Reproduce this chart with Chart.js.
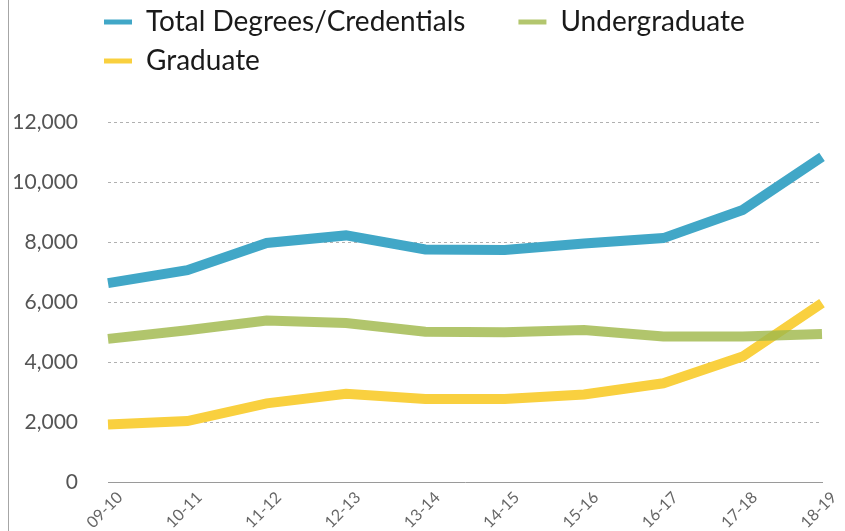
<!DOCTYPE html>
<html>
<head>
<meta charset="utf-8">
<script src="https://cdn.jsdelivr.net/npm/chart.js@4/dist/chart.umd.min.js"></script>
<style>
  html, body { margin: 0; padding: 0; background: #fff; }
  #wrap { position: relative; width: 845px; height: 531px; }
  #edge { position: absolute; left: 8px; top: 0; width: 1px; height: 531px; background: #a6a6a6; }
  canvas { position: absolute; left: 0; top: 0; }
</style>
</head>
<body>
<div id="wrap">
  <canvas id="c" width="845" height="531"></canvas>
  <div id="edge"></div>
</div>
<script>
// ---- data ----
const categories = ['09-10', '10-11', '11-12', '12-13', '13-14', '14-15', '15-16', '16-17', '17-18', '18-19'];
const totalDegrees = [6630, 7060, 7970, 8220, 7750, 7730, 7950, 8130, 9070, 10840];
const undergraduate = [4770, 5060, 5380, 5300, 5010, 4990, 5070, 4850, 4850, 4930];
const graduate = [1920, 2030, 2620, 2940, 2770, 2770, 2920, 3290, 4180, 5960];
const yTicks = [0, 2000, 4000, 6000, 8000, 10000, 12000];
const seriesNames = ['Total Degrees/Credentials', 'Undergraduate', 'Graduate'];

const FONT = 'Lato, "Open Sans", sans-serif';

const legendTweak = {
  id: 'legendTweak',
  beforeInit(chart) {
    const lg = chart.legend;
    if (lg) {
      const origFit = lg.fit.bind(lg);
      lg.fit = function () { origFit(); this.height = 122; };
    }
  },
  afterLayout(chart) {
    const lg = chart.legend;
    if (lg) { lg.left = 93; lg.top = -3; }
  }
};

new Chart(document.getElementById('c'), {
  type: 'line',
  data: {
    labels: categories,
    datasets: [
      { label: seriesNames[0], data: totalDegrees, borderColor: 'rgb(65,167,199)', backgroundColor: 'rgb(65,167,199)' },
      { label: seriesNames[1], data: undergraduate, borderColor: 'rgba(160,184,76,0.82)', backgroundColor: 'rgb(179,198,110)' },
      { label: seriesNames[2], data: graduate, borderColor: 'rgb(249,208,63)', backgroundColor: 'rgb(249,208,63)' }
    ]
  },
  options: {
    responsive: false,
    animation: false,
    devicePixelRatio: 1,
    layout: { padding: { left: 0, right: 23, top: 0, bottom: 0 } },
    elements: {
      line: { borderWidth: 10, tension: 0, borderCapStyle: 'butt', borderJoinStyle: 'miter', fill: false },
      point: { radius: 0, hoverRadius: 0 }
    },
    plugins: {
      tooltip: { enabled: false },
      legend: {
        position: 'top',
        align: 'start',
        labels: {
          boxWidth: 28,
          boxHeight: 5,
          padding: 11,
          color: '#1a1a1a',
          font: { family: FONT, size: 28 },
          generateLabels(chart) {
            return chart.data.datasets.map((ds, i) => ({
              text: i === 0 ? ds.label + '\u2003\u2002\u2009\u2009' : ds.label,
              fillStyle: ds.backgroundColor,
              strokeStyle: ds.backgroundColor,
              lineWidth: 0,
              hidden: false,
              datasetIndex: i,
              fontColor: '#1a1a1a'
            }));
          }
        }
      }
    },
    scales: {
      x: {
        offset: false,
        grid: { display: false, drawTicks: false },
        border: { display: true, color: '#9a9a9a', width: 1 },
        ticks: {
          color: '#666',
          font: { family: FONT, size: 16 },
          minRotation: 45,
          maxRotation: 45,
          padding: 6,
          labelOffset: 12,
          autoSkip: false
        },
        afterFit(scale) { scale.height = 49; }
      },
      y: {
        min: 0,
        max: 12000,
        afterBuildTicks(scale) { scale.ticks = yTicks.map(v => ({ value: v })); },
        grid: { color: '#b0b0b0', lineWidth: 1, drawTicks: false },
        border: { display: false, dash: [3, 3] },
        ticks: {
          color: '#555',
          font: { family: FONT, size: 21 },
          padding: 30,
          callback: (v) => v.toLocaleString('en-US')
        },
        afterFit(scale) { scale.width = 108; }
      }
    }
  },
  plugins: [legendTweak]
});
</script>
</body>
</html>
